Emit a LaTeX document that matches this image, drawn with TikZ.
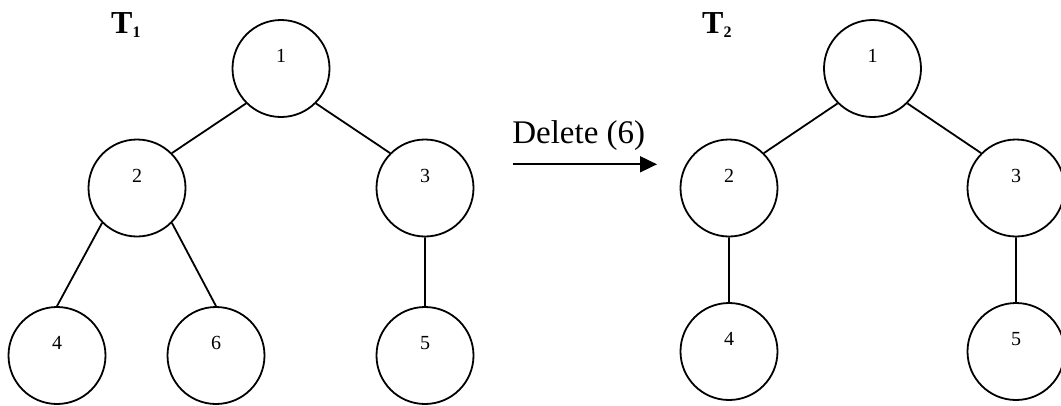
\documentclass[tikz,border=0pt]{standalone}
\usepackage{fontspec}
\setmainfont{Liberation Serif}
\usetikzlibrary{shapes, arrows.meta, positioning}
\tikzstyle{o}    = [draw, circle, line width=1.8pt, minimum size=97pt, inner sep=0pt,
                    font=\fontsize{20}{24}\selectfont, text height=14pt, text depth=26pt]
\tikzstyle{lnk}  = [draw, line width=1.8pt]
\tikzstyle{arr}  = [draw, line width=1.8pt, -{Triangle[length=17pt,width=16pt]}]
\tikzstyle{ttl}  = [anchor=base west, inner sep=0pt, font=\fontsize{32}{36}\selectfont\bfseries]

\begin{document}
\begin{tikzpicture}[x=1pt, y=-1pt, on grid]
\useasboundingbox (0,0) rectangle (1061,405);

% tree 1
\node [ttl] at (111,33)  (t1) {T\raisebox{-4pt}{\fontsize{16}{16}\selectfont 1}};
\node [o] at (281,68.5)                       (n1) {1};
\node [o, below left=119.5pt and 144pt of n1 ] (n2) {2};
\node [o, below right=119.5pt and 144pt of n1] (n3) {3};
\node [o, below left=167.5pt and 80pt of n2  ] (n4) {4};
\node [o, below right=167.5pt and 79pt of n2 ] (n6) {6};
\node [o, below=167.5pt of n3                ] (n5) {5};

\path [lnk] (n1.225) -- (n2.45)
            (n1.-45) -- (n3.135)
            (n2.225) -- (n4.north)
            (n2.-45) -- (n6.north)
            (n3.south) -- (n5.north);

% delete step
\coordinate (a0) at (512.5,164.3);
\coordinate [right=144.5pt of a0] (a1);
\path [arr] (a0) -- node [anchor=base, yshift=21pt, xshift=-6pt,
                          font=\fontsize{33}{38}\selectfont] (del) {Delete (6)} (a1);

% tree 2
\node [ttl] at (702,33)  (t2) {T\raisebox{-4pt}{\fontsize{16}{16}\selectfont 2}};
\node [o] at (872.5,68.5)                       (m1) {1};
\node [o, below left=119.5pt and 143.5pt of m1 ] (m2) {2};
\node [o, below right=119.5pt and 143.5pt of m1] (m3) {3};
\node [o, below=163.5pt of m2                  ] (m4) {4};
\node [o, below=163.5pt of m3                  ] (m5) {5};

\path [lnk] (m1.225) -- (m2.45)
            (m1.-45) -- (m3.135)
            (m2.south) -- (m4.north)
            (m3.south) -- (m5.north);

\end{tikzpicture}
\end{document}
